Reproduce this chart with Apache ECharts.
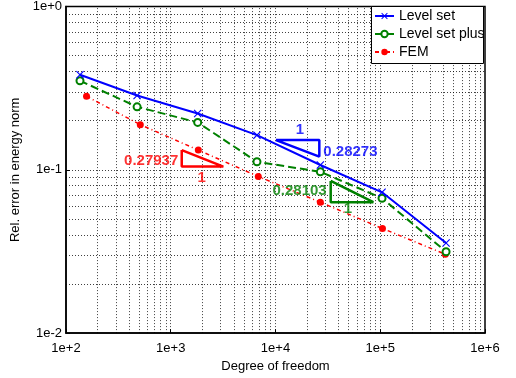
<!DOCTYPE html>
<html>
<head>
<meta charset="utf-8">
<script src="https://cdn.jsdelivr.net/npm/echarts@6/dist/echarts.min.js"></script>
<style>
  html, body { margin: 0; padding: 0; background: #fff; }
  #main { width: 516px; height: 378px; }
</style>
</head>
<body>
<div id="main"></div>
<script>
// values
const dofLevelSet = [136, 477, 1808, 6650, 26800, 104000, 425000];
const errLevelSet = [0.382, 0.285, 0.221, 0.163, 0.107, 0.0728, 0.0356];
const errLevelSetPlus = [0.351, 0.243, 0.195, 0.112, 0.0972, 0.067, 0.0315];
const dofFEM = [157, 512, 1833, 6850, 26800, 105000, 418000];
const errFEM = [0.282, 0.189, 0.132, 0.091, 0.0633, 0.0437, 0.0304];

// slope triangles (data coords)
const triLevelSet = [[10100, 0.152], [26200, 0.152], [26200, 0.1205], [10100, 0.152]];
const triFEM = [[1273, 0.132], [1273, 0.1047], [3177, 0.1047], [1273, 0.132]];
const triPlus = [[33650, 0.0855], [33650, 0.0633], [85900, 0.0633], [33650, 0.0855]];

// slope labels: [x, y, text, side, colour]
const slopeLabels = [
  [17100, 0.175, '1', 'inside', '#0000ff'],
  [28600, 0.129, '0.28273', 'right', '#0000ff'],
  [1180, 0.114, '0.27937', 'left', '#ff0000'],
  [1972, 0.0891, '1', 'inside', '#ff0000'],
  [30800, 0.0739, '0.28103', 'left', '#008000'],
  [49200, 0.058, '1', 'inside', '#008000']
];

// grid lines (majors + minors)
const xGrid = [];
for (let e = 2; e < 6; e++) for (let m = 1; m < 10; m++) if (!(e === 2 && m === 1)) xGrid.push(m * Math.pow(10, e));
const yGrid = [];
for (let e = -2; e < 0; e++) for (let m = 1; m < 10; m++) if (!(e === -2 && m === 1)) yGrid.push(+(m * Math.pow(10, e)).toFixed(4));

const font = 'Liberation Sans';
const expFmt = v => {
  const e = Math.round(Math.log10(v));
  return '1e' + (e >= 0 ? '+' : '') + e;
};
const zip = (xs, ys) => xs.map((x, i) => [x, ys[i]]);
const xMark = 'path://M0,1L1,0L5,4L9,0L10,1L6,5L10,9L9,10L5,6L1,10L0,9L4,5Z';

const chart = echarts.init(document.getElementById('main'));
chart.setOption({
  animation: false,
  textStyle: { fontFamily: font },
  grid: { left: 66, right: 31, top: 5, bottom: 43, show: true, borderColor: '#000', borderWidth: 1.5 },
  // white panel behind the legend so the grid does not show through
  graphic: [{
    type: 'rect', left: 371, top: 6, z: 90, silent: true,
    shape: { width: 112, height: 57 },
    style: { fill: '#fff', stroke: '#000', lineWidth: 1 }
  }],
  legend: {
    data: ['Level set', 'Level set plus', 'FEM'],
    orient: 'vertical',
    left: 371, top: 6, z: 100,
    itemWidth: 19, itemHeight: 8, itemGap: 4,
    padding: [3, 1, 2, 3],
    textStyle: { fontSize: 14, color: '#000', fontFamily: font }
  },
  xAxis: {
    type: 'log', logBase: 10, min: 100, max: 1e6,
    name: 'Degree of freedom', nameLocation: 'middle', nameGap: 24,
    nameTextStyle: { fontSize: 13, color: '#000' },
    axisLine: { lineStyle: { color: '#000', width: 1.5 } },
    axisTick: { inside: true, length: 4, lineStyle: { color: '#000' } },
    axisLabel: { formatter: expFmt, fontSize: 13, color: '#000', margin: 9 },
    splitLine: { show: false }
  },
  yAxis: {
    type: 'log', logBase: 10, min: 0.01, max: 1,
    name: 'Rel. error in energy norm', nameLocation: 'middle', nameGap: 42,
    nameTextStyle: { fontSize: 13, color: '#000' },
    axisLine: { lineStyle: { color: '#000', width: 1.5 } },
    axisTick: { inside: true, length: 4, lineStyle: { color: '#000' } },
    axisLabel: { formatter: expFmt, fontSize: 13, color: '#000', margin: 4 },
    splitLine: { show: false }
  },
  series: [
    {
      name: 'grid', type: 'line', data: [], silent: true, z: 1,
      markLine: {
        silent: true, symbol: ['none', 'none'], label: { show: false }, z: 1,
        lineStyle: { color: '#000', type: [1, 2], width: 1, opacity: 0.75 },
        data: xGrid.map(v => ({ xAxis: v })).concat(yGrid.map(v => ({ yAxis: v })))
      }
    },
    {
      name: 'Level set', type: 'line', data: zip(dofLevelSet, errLevelSet),
      color: '#0000ff',
      lineStyle: { color: '#0000ff', width: 2 },
      symbol: xMark, symbolSize: 8, showAllSymbol: true,
      itemStyle: { color: '#0000ff' }, z: 5
    },
    {
      name: 'Level set plus', type: 'line', data: zip(dofLevelSet, errLevelSetPlus),
      color: '#008000',
      lineStyle: { color: '#008000', width: 2, type: [8, 4] },
      symbol: 'emptyCircle', symbolSize: 7,
      itemStyle: { color: '#008000', borderColor: '#008000', borderWidth: 1.5 }, z: 4
    },
    {
      name: 'FEM', type: 'line', data: zip(dofFEM, errFEM),
      color: '#ff0000',
      lineStyle: { color: '#ff0000', width: 1.5, type: [4, 3, 1, 3] },
      symbol: 'circle', symbolSize: 7,
      itemStyle: { color: '#ff0000' }, z: 3
    },
    { name: 'triLS', type: 'line', data: triLevelSet, symbol: 'none', lineStyle: { color: '#0000ff', width: 2.5 }, z: 6 },
    { name: 'triFEM', type: 'line', data: triFEM, symbol: 'none', lineStyle: { color: '#ff0000', width: 2.5 }, z: 6 },
    { name: 'triPlus', type: 'line', data: triPlus, symbol: 'none', lineStyle: { color: '#008000', width: 2.5 }, z: 6 },
    {
      name: 'slopes', type: 'scatter', symbolSize: 0, z: 7,
      data: slopeLabels.map(d => ({
        value: [d[0], d[1]],
        label: {
          show: true, formatter: d[2], position: d[3], distance: 0,
          color: d[4], fontSize: 15, fontWeight: 'bold', fontFamily: font
        }
      }))
    }
  ]
});
</script>
</body>
</html>
